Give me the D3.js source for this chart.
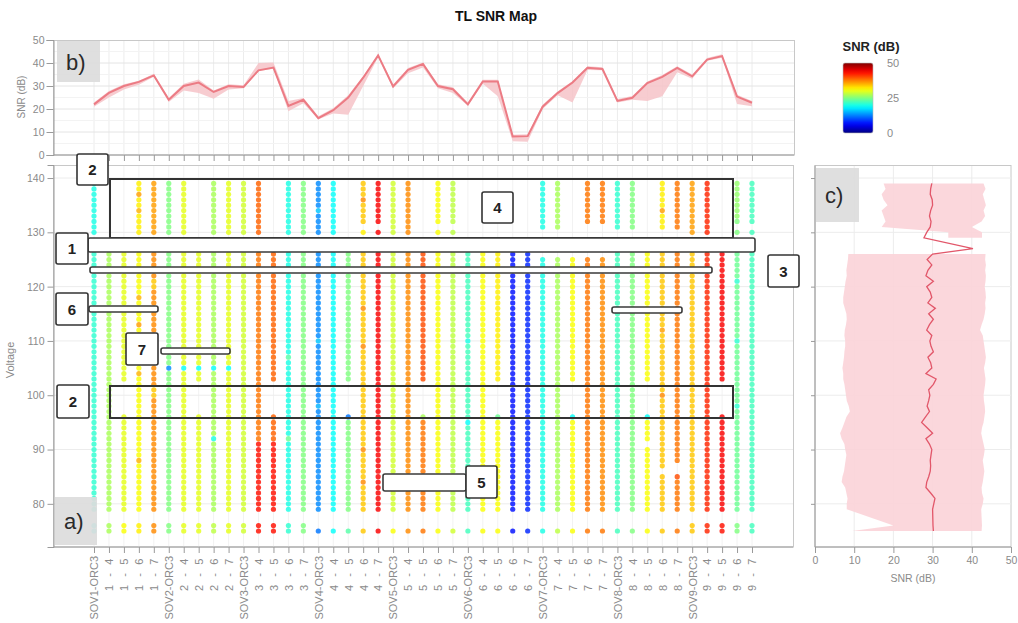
<!DOCTYPE html>
<html>
<head>
<meta charset="utf-8">
<script src="https://cdn.jsdelivr.net/npm/d3@7"></script>
<style>
  body { margin: 0; background: #fff; }
  text { font-family: "Liberation Sans", Arial, sans-serif; }
</style>
</head>
<body>
<svg id="chart" width="1018" height="623"></svg>
<script>
// ---- data ----
const categories = ["SOV1-ORC3", "1 - 4", "1 - 5", "1 - 6", "1 - 7",
  "SOV2-ORC3", "2 - 4", "2 - 5", "2 - 6", "2 - 7",
  "SOV3-ORC3", "3 - 4", "3 - 5", "3 - 6", "3 - 7",
  "SOV4-ORC3", "4 - 4", "4 - 5", "4 - 6", "4 - 7",
  "SOV5-ORC3", "5 - 4", "5 - 5", "5 - 6", "5 - 7",
  "SOV6-ORC3", "6 - 4", "6 - 5", "6 - 6", "6 - 7",
  "SOV7-ORC3", "7 - 4", "7 - 5", "7 - 6", "7 - 7",
  "SOV8-ORC3", "8 - 4", "8 - 5", "8 - 6", "8 - 7",
  "SOV9-ORC3", "9 - 4", "9 - 5", "9 - 6", "9 - 7"];

// panel b: mean SNR per test point and its spread
const bMean = [22, 27, 30, 31.8, 34.6, 24, 30, 31.5, 27.4, 30, 29.6, 36.8, 38, 21.3, 24,
  16, 19.5, 25, 33.6, 43.3, 29.8, 37, 39.6, 30, 28.6, 22, 32, 32, 8, 8.2,
  21, 26.9, 31.5, 37.9, 37.4, 23.5, 24.9, 31.3, 34, 37.9, 34.2, 41.5, 43, 25.4, 22.7];
const bLow = [21, 25, 28.5, 30.5, 34, 23, 28, 27, 24.5, 28.5, 29, 36.5, 37.5, 19, 22.5,
  15.5, 18, 17.5, 30, 42.5, 29, 35.5, 38, 29, 27, 21.5, 31, 25.5, 6, 5.8,
  20, 26, 22.8, 37, 36.8, 22.8, 24, 23.5, 25.5, 36, 33.2, 41, 42.3, 22.2, 21.2];
const bHigh = [22.8, 27.8, 30.8, 32.3, 35.3, 24.8, 31, 32.8, 28, 30.8, 30.3, 40, 40.2, 23.5, 24.8,
  16.8, 20.3, 26, 34.2, 44, 30.6, 37.8, 40.2, 30.8, 29.5, 22.8, 32.7, 32.7, 8.8, 9,
  21.8, 27.6, 32.2, 38.6, 38.2, 24.3, 25.7, 32, 34.8, 38.6, 35, 42.2, 43.8, 26.2, 23.5];
const bTicks = [0, 10, 20, 30, 40, 50];

// panel a: per column, runs of [voltage from, voltage to, SNR dB]; later runs override
const dotSegments = [
  [[79, 126, 21], [130, 139, 20], [75, 76, 20]],
  [[79, 126, 27], [75, 76, 27]],
  [[103, 126, 30], [79, 96, 30], [75, 76, 31]],
  [[130, 139, 32], [79, 126, 31], [137, 137, 36], [134, 134, 35], [118, 118, 35], [113, 113, 36], [104, 104, 35], [88, 88, 35], [75, 76, 32]],
  [[130, 139, 36], [79, 126, 37], [120, 121, 34], [100, 101, 34], [75, 76, 37]],
  [[130, 139, 25], [79, 126, 25], [105, 105, 13], [75, 76, 25]],
  [[130, 139, 30], [79, 126, 30], [105, 105, 19], [75, 76, 30]],
  [[103, 126, 30], [79, 96, 30], [105, 105, 19], [75, 76, 30]],
  [[130, 139, 27], [79, 126, 27], [105, 105, 19], [92, 92, 20], [75, 76, 28]],
  [[130, 139, 30], [79, 126, 30], [105, 105, 19], [75, 76, 30]],
  [[130, 139, 29], [79, 126, 29], [75, 76, 29]],
  [[130, 139, 39], [92, 126, 38], [79, 91, 43], [75, 76, 43]],
  [[103, 126, 39], [92, 96, 39], [79, 91, 43], [75, 76, 43]],
  [[130, 139, 20], [79, 126, 20], [107, 107, 23], [92, 92, 24], [75, 76, 21]],
  [[130, 139, 25], [79, 126, 25], [75, 76, 25]],
  [[130, 139, 13], [79, 126, 13], [134, 134, 16], [110, 110, 16], [98, 98, 15], [75, 75, 12]],
  [[130, 139, 19], [79, 126, 19], [75, 75, 19]],
  [[103, 126, 25], [96, 96, 12], [79, 95, 25], [75, 75, 23]],
  [[132, 139, 34], [130, 130, 32], [79, 126, 34], [136, 136, 37], [116, 116, 37], [109, 109, 37], [90, 90, 37], [84, 84, 37], [75, 75, 34]],
  [[132, 139, 44], [130, 130, 44], [79, 126, 44], [75, 75, 44]],
  [[130, 139, 29], [79, 126, 29], [75, 75, 31]],
  [[130, 139, 37], [79, 126, 37], [75, 75, 37]],
  [[103, 126, 40], [96, 96, 27], [79, 95, 38], [75, 75, 38]],
  [[132, 139, 31], [130, 130, 31], [79, 126, 31], [75, 75, 31]],
  [[132, 139, 28], [130, 130, 28], [79, 126, 28], [75, 75, 29]],
  [[79, 126, 22], [110, 110, 20], [95, 95, 19], [75, 75, 22]],
  [[79, 126, 31], [75, 75, 31]],
  [[103, 126, 32], [96, 96, 24], [79, 95, 31], [75, 75, 31]],
  [[79, 126, 7], [75, 75, 7]],
  [[79, 126, 8], [75, 75, 8]],
  [[131, 139, 20], [79, 125, 20], [75, 75, 20]],
  [[131, 139, 27], [79, 125, 27], [75, 75, 28]],
  [[103, 125, 31], [96, 96, 19], [79, 95, 31], [75, 75, 31]],
  [[132, 139, 38], [79, 125, 38], [75, 75, 38]],
  [[132, 139, 38], [79, 125, 37], [75, 75, 38]],
  [[131, 139, 21], [79, 126, 22], [75, 75, 22]],
  [[131, 139, 25], [79, 126, 25], [75, 75, 25]],
  [[103, 126, 31], [96, 96, 19], [92, 95, 31], [79, 90, 31], [75, 75, 31]],
  [[131, 139, 32], [87, 126, 34], [79, 85, 34], [134, 134, 36], [112, 112, 36], [100, 100, 37], [75, 75, 34]],
  [[131, 139, 38], [88, 126, 38], [85, 85, 40], [79, 84, 38], [75, 75, 38]],
  [[130, 139, 36], [79, 126, 34], [75, 76, 34]],
  [[130, 139, 42], [79, 126, 42], [75, 76, 42]],
  [[103, 126, 44], [79, 96, 44], [75, 76, 43]],
  [[133, 139, 26], [132, 132, 25], [130, 130, 25], [79, 126, 24], [121, 121, 21], [110, 110, 21], [98, 98, 21], [75, 76, 25]],
  [[133, 139, 22], [132, 132, 22], [130, 130, 22], [79, 126, 22], [75, 76, 22]]
];
const voltTicks = [80, 90, 100, 110, 120, 130, 140];

// panel c: SNR over all test points per voltage
const cVolt = [75, 76, 79, 80, 81, 82, 83, 84, 85, 86, 87, 88, 89, 90, 91, 92, 93, 94, 95, 96,
  97, 98, 99, 100, 101, 102, 103, 104, 105, 106, 107, 108, 109, 110, 111, 112, 113, 114, 115, 116,
  117, 118, 119, 120, 121, 122, 123, 124, 125, 126, 127, 129, 130, 131, 132, 133, 134, 135, 136, 137,
  138, 139];
const cMean = [30.2, 30.1, 30, 30.3, 30.6, 29.5, 28.3, 28.5, 29, 29.4, 29.5, 29.4, 29.6, 29.8, 29.2, 28.3, 30, 28.6, 27.2, 28.2,
  29.2, 28.6, 29, 29.3, 29, 30.2, 30.9, 28.3, 29.8, 29.5, 28.8, 30.2, 29.6, 29.3, 29.8, 28.5, 29.2, 30.2, 29, 30.7,
  28.8, 29.8, 29.4, 28.5, 30.2, 28.3, 28.8, 29.8, 28.6, 30, 40.3, 27.8, 28.5, 29.4, 29.6, 29.2, 29.5, 30, 29.9, 29.4,
  29.5, 29.8];
const cLow = [9.5, 20, 8.1, 8.1, 8.3, 8, 7.7, 6.8, 7, 7.4, 7.6, 7.8, 8, 7.7, 7.5, 6.8, 6.4, 7, 7.5, 8,
  8.9, 8.6, 8.1, 7.9, 7.7, 7.5, 7.2, 7.2, 7, 7.2, 7.4, 7.5, 7.7, 7.7, 7.5, 7.6, 7.9, 8.1, 8, 7.6,
  7.2, 7.2, 7.4, 7.6, 7.8, 8.1, 8, 8.2, 8.4, 8.5, null, 34, 34, 17, 18, 17.5, 17, 18.5, 17.5, 17,
  18, 17.5];
const cHigh = [42.5, 42.6, 42.4, 42.8, 43, 42.6, 42.5, 42.8, 43, 43.2, 43, 42.8, 43.1, 43.3, 43, 42.7, 42.4, 42.6, 43, 43.2,
  43.4, 43.3, 43.1, 43, 43.2, 43.4, 43.5, 43.3, 43.1, 43.4, 43.6, 43.4, 43.2, 43, 42.8, 42.1, 42.5, 43, 43.3, 43.5,
  43.4, 43.6, 43.5, 43.3, 43.5, 43.6, 43.4, 43.6, 43.4, 43.5, null, 42.6, 42.6, 40, 42.5, 43.4, 43, 43.6, 43.2, 42.8,
  43.5, 43];
const cTicks = [0, 10, 20, 30, 40, 50];
const legendTicks = [0, 25, 50];

// ---- helpers ----
function jet(t) {
  const c = v => Math.max(0, Math.min(1, v));
  return d3.rgb(255 * c(1.5 - Math.abs(4 * t - 3)), 255 * c(1.5 - Math.abs(4 * t - 2)), 255 * c(1.5 - Math.abs(4 * t - 1))).formatHex();
}
const color = d3.scaleSequential(jet).domain([0, 50]);

const svg = d3.select("#chart");
const gridColor = "#ececec";
const tickColor = "#8a8a8a";

// ---- scales ----
const x = d3.scalePoint().domain(categories).range([94, 752]);
const yB = d3.scaleLinear().domain([0, 50]).range([155, 40]);
const yV = d3.scaleLinear().domain([72.05, 142.4]).range([547, 165]);
const xC = d3.scaleLinear().domain([0, 50]).range([815, 1011]);

// title
svg.append("text").attr("x", 496).attr("y", 21).attr("text-anchor", "middle")
  .attr("font-size", 14).attr("font-weight", "bold").attr("fill", "#111").text("TL SNR Map");

// ================= panel b =================
const pb = svg.append("g");
pb.append("rect").attr("x", 53.5).attr("y", 40.5).attr("width", 741).attr("height", 114.5)
  .attr("fill", "#fff").attr("stroke", "#c8c8c8");
pb.append("g").selectAll("line").data(categories).join("line")
  .attr("x1", d => x(d)).attr("x2", d => x(d)).attr("y1", 41).attr("y2", 155)
  .attr("stroke", gridColor);
pb.append("g").selectAll("line").data(d3.range(5, 50, 5)).join("line")
  .attr("x1", 54).attr("x2", 794).attr("y1", d => yB(d)).attr("y2", d => yB(d))
  .attr("stroke", d => d % 10 === 0 ? "#e4e4e4" : "#f3f3f3");

const bRows = categories.map((c, i) => ({c, m: bMean[i], lo: bLow[i], hi: bHigh[i]}));
pb.append("path").datum(bRows)
  .attr("d", d3.area().x(d => x(d.c)).y0(d => yB(d.lo)).y1(d => yB(d.hi)))
  .attr("fill", "#f6c3c8").attr("opacity", 0.85);
pb.append("path").datum(bRows)
  .attr("d", d3.line().x(d => x(d.c)).y(d => yB(d.m)))
  .attr("fill", "none").attr("stroke", "#ec7b84").attr("stroke-width", 2);

const bAxisY = pb.append("g").attr("transform", "translate(53.5,0)")
  .call(d3.axisLeft(yB).tickValues(bTicks).tickSize(7).tickPadding(2));
const bAxisX = pb.append("g").attr("transform", "translate(0,155)")
  .call(d3.axisBottom(x).tickSize(6).tickFormat(""));
[bAxisY, bAxisX].forEach(a => {
  a.select(".domain").attr("stroke", "#9a9a9a");
  a.selectAll(".tick line").attr("stroke", "#9a9a9a");
  a.selectAll("text").attr("fill", tickColor).attr("font-size", 10.5);
});
bAxisX.select(".domain").attr("d", "M54,0H794");
svg.append("text").attr("transform", "translate(25,97) rotate(-90)").attr("text-anchor", "middle")
  .attr("font-size", 10).attr("fill", tickColor).text("SNR (dB)");

// ================= panel a =================
const pa = svg.append("g");
pa.append("rect").attr("x", 53.5).attr("y", 165.5).attr("width", 740).attr("height", 381.5)
  .attr("fill", "#fff").attr("stroke", "#c8c8c8");
pa.append("g").selectAll("line").data(categories).join("line")
  .attr("x1", d => x(d)).attr("x2", d => x(d)).attr("y1", 166).attr("y2", 547)
  .attr("stroke", "#f2f2f2");
pa.append("g").selectAll("line").data(voltTicks).join("line")
  .attr("x1", 54).attr("x2", 793).attr("y1", d => yV(d)).attr("y2", d => yV(d))
  .attr("stroke", gridColor);

const dots = [];
dotSegments.forEach((segs, i) => {
  const byV = new Map();
  segs.forEach(([lo, hi, snr]) => { for (let v = lo; v <= hi; v++) byV.set(v, snr); });
  byV.forEach((snr, v) => dots.push({c: categories[i], v, snr}));
});
pa.append("g").selectAll("circle").data(dots).join("circle")
  .attr("cx", d => x(d.c)).attr("cy", d => yV(d.v)).attr("r", 2.6)
  .attr("fill", d => color(d.snr)).attr("fill-opacity", 0.82);

const aAxisY = pa.append("g").attr("transform", "translate(53.5,0)")
  .call(d3.axisLeft(yV).tickValues(voltTicks).tickSize(6).tickPadding(3));
const aAxisX = pa.append("g").attr("transform", "translate(0,547)")
  .call(d3.axisBottom(x).tickSize(6).tickPadding(4));
[aAxisY, aAxisX].forEach(a => {
  a.select(".domain").attr("stroke", "#9a9a9a");
  a.selectAll(".tick line").attr("stroke", "#9a9a9a");
  a.selectAll("text").attr("fill", tickColor).attr("font-size", 10.5);
});
aAxisX.select(".domain").attr("d", "M54,0H793");
aAxisX.selectAll("text")
  .attr("transform", "rotate(-90)").attr("text-anchor", "end")
  .attr("x", -9).attr("y", 0).attr("dy", "0.35em")
  .attr("letter-spacing", d => d.startsWith("SOV") ? 0 : 2.6)
  .attr("font-size", 11);
svg.append("text").attr("transform", "translate(14,360) rotate(-90)").attr("text-anchor", "middle")
  .attr("font-size", 11).attr("fill", tickColor).text("Voltage");

// annotations over panel a
const outlineBoxes = [{x: 110, y: 179, w: 623, h: 59}, {x: 110, y: 386, w: 623, h: 32}];
const whiteBars = [
  {x: 88, y: 238, w: 667, h: 14}, {x: 90, y: 267, w: 622, h: 6},
  {x: 89, y: 306, w: 69, h: 6}, {x: 161, y: 348, w: 69, h: 6},
  {x: 612, y: 307, w: 70, h: 6}, {x: 383, y: 474, w: 83, h: 17}];
const tagBoxes = [
  {t: "2", x: 77, y: 154, w: 31, h: 31}, {t: "1", x: 56, y: 233, w: 32, h: 31},
  {t: "3", x: 768, y: 255, w: 31, h: 32}, {t: "6", x: 56, y: 293, w: 32, h: 32},
  {t: "7", x: 126, y: 333, w: 32, h: 32}, {t: "2", x: 57, y: 385, w: 32, h: 33},
  {t: "5", x: 466, y: 466, w: 31, h: 32}, {t: "4", x: 482, y: 192, w: 31, h: 31}];
const ann = svg.append("g");
ann.selectAll(".ob").data(outlineBoxes).join("rect").attr("class", "ob")
  .attr("x", d => d.x).attr("y", d => d.y).attr("width", d => d.w).attr("height", d => d.h)
  .attr("fill", "none").attr("stroke", "#333").attr("stroke-width", 2);
ann.selectAll(".wb").data(whiteBars).join("rect").attr("class", "wb")
  .attr("x", d => d.x).attr("y", d => d.y).attr("width", d => d.w).attr("height", d => d.h)
  .attr("rx", 2).attr("fill", "#fff").attr("stroke", "#3a3a3a").attr("stroke-width", 1.6);
const tags = ann.selectAll(".tg").data(tagBoxes).join("g").attr("class", "tg");
tags.append("rect").attr("x", d => d.x).attr("y", d => d.y).attr("width", d => d.w).attr("height", d => d.h)
  .attr("rx", 2).attr("fill", "#fff").attr("stroke", "#333").attr("stroke-width", 1.6);
tags.append("text").attr("x", d => d.x + d.w / 2).attr("y", d => d.y + d.h / 2 + 5.5)
  .attr("text-anchor", "middle").attr("font-size", 15).attr("font-weight", "bold").attr("fill", "#222")
  .text(d => d.t);

// ================= panel c =================
const pc = svg.append("g");
pc.append("rect").attr("x", 815).attr("y", 165.5).attr("width", 196).attr("height", 381.5)
  .attr("fill", "#fff").attr("stroke", "#c8c8c8");
pc.append("g").selectAll("line").data(cTicks.slice(1, -1)).join("line")
  .attr("x1", d => xC(d)).attr("x2", d => xC(d)).attr("y1", 166).attr("y2", 547)
  .attr("stroke", gridColor);
pc.append("g").selectAll("line").data(voltTicks).join("line")
  .attr("x1", 815).attr("x2", 1011).attr("y1", d => yV(d)).attr("y2", d => yV(d))
  .attr("stroke", gridColor);
const cRows = cVolt.map((v, i) => ({v, m: cMean[i], lo: cLow[i], hi: cHigh[i]}));
pc.append("path").datum(cRows)
  .attr("d", d3.area().defined(d => d.lo !== null).y(d => yV(d.v)).x0(d => xC(d.lo)).x1(d => xC(d.hi)))
  .attr("fill", "#fbd3d8").attr("opacity", 0.9);
pc.append("path").datum(cRows)
  .attr("d", d3.line().y(d => yV(d.v)).x(d => xC(d.m)))
  .attr("fill", "none").attr("stroke", "#e2576a").attr("stroke-width", 1.3);
const cAxisX = pc.append("g").attr("transform", "translate(0,547)")
  .call(d3.axisBottom(xC).tickValues(cTicks).tickSize(6).tickPadding(4));
const cAxisY = pc.append("g").attr("transform", "translate(815,0)")
  .call(d3.axisLeft(yV).tickValues(voltTicks).tickSize(4).tickFormat(""));
[cAxisX, cAxisY].forEach(a => {
  a.select(".domain").attr("stroke", "#9a9a9a");
  a.selectAll(".tick line").attr("stroke", "#9a9a9a");
  a.selectAll("text").attr("fill", tickColor).attr("font-size", 10.5);
});
cAxisX.select(".domain").attr("d", "M815,0H1011");
cAxisY.select(".domain").attr("d", "M0,165.5V547");
svg.append("text").attr("x", 913).attr("y", 582).attr("text-anchor", "middle")
  .attr("font-size", 10.5).attr("fill", tickColor).text("SNR (dB)");

// ================= panel tags a) b) c) =================
const panelTags = [
  {t: "b)", x: 57, y: 41, w: 43, h: 41},
  {t: "a)", x: 55, y: 497, w: 42, h: 48},
  {t: "c)", x: 816, y: 168, w: 43, h: 54}];
const pt = svg.append("g").selectAll("g").data(panelTags).join("g");
pt.append("rect").attr("x", d => d.x).attr("y", d => d.y).attr("width", d => d.w).attr("height", d => d.h)
  .attr("fill", "#dcdcdc").attr("opacity", 0.92);
pt.append("text").attr("x", d => d.x + 9).attr("y", d => d.y + d.h / 2 + 8)
  .attr("font-family", "'Open Sans', sans-serif").attr("font-size", 22).attr("fill", "#2a2a2a")
  .text(d => d.t);

// ================= colour legend =================
const defs = svg.append("defs");
const grad = defs.append("linearGradient").attr("id", "jetGrad")
  .attr("x1", 0).attr("y1", 1).attr("x2", 0).attr("y2", 0);
grad.selectAll("stop").data(d3.range(0, 1.0001, 0.05)).join("stop")
  .attr("offset", d => d).attr("stop-color", d => jet(d));
const legendY = d3.scaleLinear().domain([0, 50]).range([133, 63]);
svg.append("text").attr("x", 871).attr("y", 51).attr("text-anchor", "middle")
  .attr("font-size", 13).attr("font-weight", "bold").attr("fill", "#222").text("SNR (dB)");
svg.append("rect").attr("x", 843).attr("y", 63).attr("width", 30).attr("height", 70)
  .attr("rx", 2).attr("fill", "url(#jetGrad)").attr("stroke", "#bbb").attr("stroke-width", 0.6);
svg.append("g").selectAll("text").data(legendTicks).join("text")
  .attr("x", 887).attr("y", d => legendY(d) + 4).attr("font-size", 11).attr("fill", tickColor)
  .text(d => d);
</script>
</body>
</html>
